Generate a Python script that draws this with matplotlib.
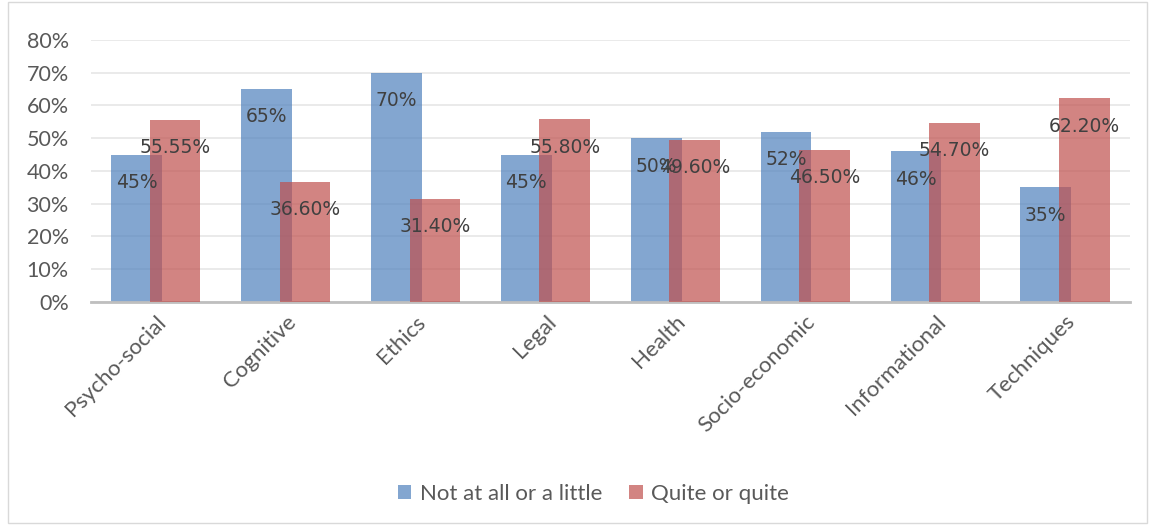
import matplotlib.pyplot as plt
import numpy as np
from matplotlib.patches import Rectangle

categories = ['Psycho-social', 'Cognitive', 'Ethics', 'Legal', 'Health',
              'Socio-economic', 'Informational', 'Techniques']
not_at_all = [0.45, 0.65, 0.70, 0.45, 0.50, 0.52, 0.46, 0.35]
quite = [0.5555, 0.366, 0.314, 0.558, 0.496, 0.465, 0.547, 0.622]
not_at_all_labels = ['45%', '65%', '70%', '45%', '50%', '52%', '46%', '35%']
quite_labels = ['55.55%', '36.60%', '31.40%', '55.80%', '49.60%', '46.50%', '54.70%', '62.20%']

plt.rcParams['font.family'] = ['Lato', 'DejaVu Sans']

fig = plt.figure(figsize=(11.55, 5.25), dpi=100)
ax = fig.add_axes([0.0788, 0.4248, 0.8995, 0.499])

# outer chart border
fig.patches.append(Rectangle((0.007, 0.004), 0.986, 0.992, transform=fig.transFigure,
                             fill=False, edgecolor='#D9D9D9', lw=1))

x = np.arange(len(categories))
w = 0.39
off = 0.148
b1 = ax.bar(x - off, not_at_all, w, color='#4F81BD', alpha=0.7, label='Not at all or a little', zorder=2)
b2 = ax.bar(x + off, quite, w, color='#C0504D', alpha=0.7, label='Quite or quite', zorder=3)

for xi, v, t in zip(x - off, not_at_all, not_at_all_labels):
    ax.annotate(t, (xi, v), xytext=(0, -20), textcoords='offset points', ha='center', va='center',
                fontsize=13.5, color='#404040', family='DejaVu Sans', zorder=5)
for xi, v, t in zip(x + off, quite, quite_labels):
    ax.annotate(t, (xi, v), xytext=(0, -20), textcoords='offset points', ha='center', va='center',
                fontsize=13.5, color='#404040', family='DejaVu Sans', zorder=5)

ax.set_xlim(-0.5, len(categories) - 0.5)
ax.set_ylim(0, 0.8)
ax.set_yticks(np.arange(0, 0.81, 0.1))
ax.set_yticklabels([f'{int(round(t * 100))}%' for t in np.arange(0, 0.81, 0.1)])
ax.yaxis.grid(True, color='#E6E6E6', lw=1.2, zorder=0)
ax.set_axisbelow(True)
ax.tick_params(axis='y', length=0, labelsize=15.5, labelcolor='#595959', pad=16)
ax.tick_params(axis='x', length=0, labelsize=16, labelcolor='#595959', pad=7)
ax.set_xticks(x)
ax.set_xticklabels(categories, rotation=45, ha='right', rotation_mode='anchor')
for s in ['top', 'right', 'left']:
    ax.spines[s].set_visible(False)
ax.spines['bottom'].set_color('#BFBFBF')
ax.spines['bottom'].set_linewidth(2)

fig.legend(handles=[b1, b2], loc='center', bbox_to_anchor=(0.514, 0.06), ncol=2, frameon=False,
           fontsize=16, labelcolor='#595959', handlelength=0.6, handleheight=0.6,
           handletextpad=0.4, columnspacing=1.2)

fig.savefig('out.png', dpi=100)
